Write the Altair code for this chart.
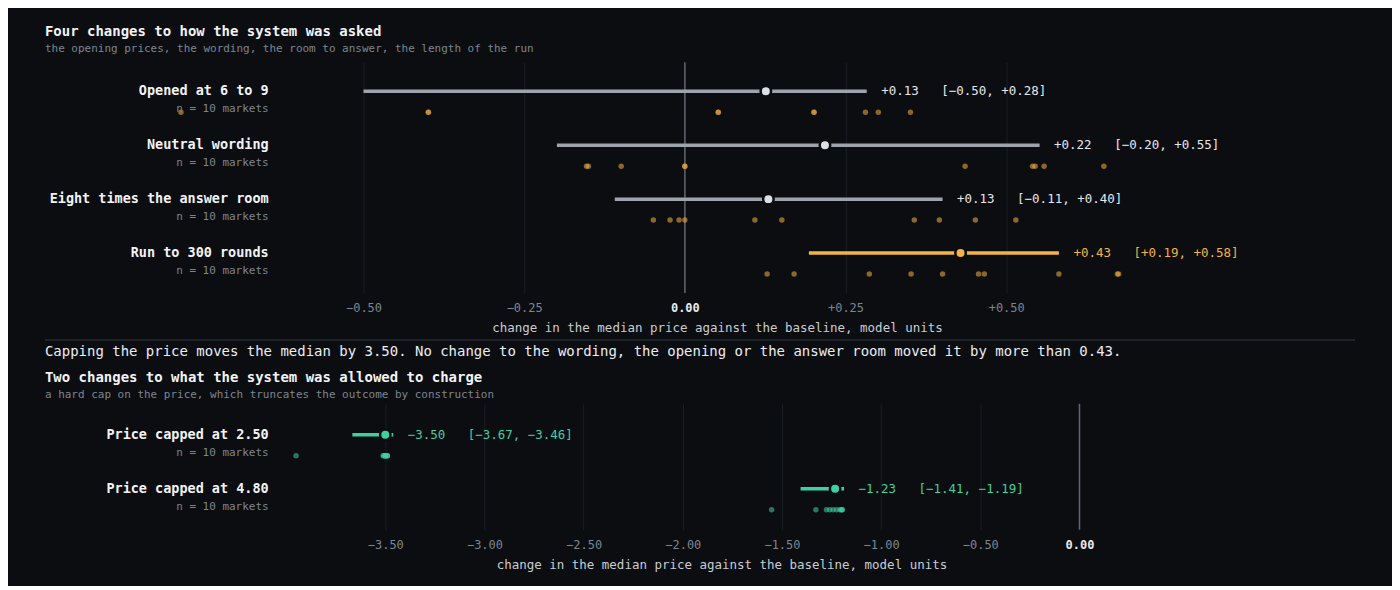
import altair as alt
import pandas as pd

BG = "#0b0d11"
FONT = "DejaVu Sans Mono"
AMBER = "#f5b342"
TEAL = "#3fd0a0"
GRAY_LINE = "#9ea3ad"
GRAY_POINT = "#dde0e6"
TEXT_NS = "#e6e8eb"
MUTED = "#7d8590"
NB = "\u00a0"

# ---------- data: panel 1 ----------
p1_labels = ["Opened at 6 to 9", "Neutral wording", "Eight times the answer room", "Run to 300 rounds"]
p1_n = [10, 10, 10, 10]
p1_median = [0.126, 0.218, 0.130, 0.429]
p1_lo = [-0.500, -0.199, -0.109, 0.193]
p1_hi = [0.283, 0.552, 0.401, 0.582]
p1_opened = [-0.784, -0.399, -0.399, 0.052, 0.052, 0.201, 0.201, 0.281, 0.301, 0.351]
p1_neutral = [-0.153, -0.150, -0.099, 0.000, 0.000, 0.436, 0.541, 0.545, 0.559, 0.652]
p1_eight = [-0.049, -0.023, -0.009, 0.000, 0.109, 0.151, 0.357, 0.396, 0.452, 0.515]
p1_run300 = [0.128, 0.170, 0.287, 0.352, 0.401, 0.457, 0.466, 0.582, 0.673, 0.675]
p1_dots = [p1_opened, p1_neutral, p1_eight, p1_run300]
p1_ticks = [-0.5, -0.25, 0.0, 0.25, 0.5]
p1_domain = [-0.5, 0.6]

# ---------- data: panel 2 ----------
p2_labels = ["Price capped at 2.50", "Price capped at 4.80"]
p2_n = [10, 10]
p2_median = [-3.500, -1.232]
p2_lo = [-3.666, -1.406]
p2_hi = [-3.460, -1.187]
p2_cap250 = [-3.95, -3.51, -3.51, -3.50, -3.50, -3.50, -3.50, -3.49, -3.49, -3.49]
p2_cap480 = [-1.552, -1.329, -1.276, -1.259, -1.242, -1.225, -1.208, -1.200, -1.198, -1.195]
p2_dots = [p2_cap250, p2_cap480]
p2_ticks = [-3.5, -3.0, -2.5, -2.0, -1.5, -1.0, -0.5, 0.0]
p2_domain = [-3.61, 0.0]

SENTENCE = ("Capping the price moves the median by 3.50. No change to the wording, "
            "the opening or the answer room moved it by more than 0.43.")
X_TITLE = "change in the median price against the baseline, model units"

LABEL_GAP = 95      # from right edge of row labels to the plot area
LEFT_SHIFT = 319    # from plot area to the page's left text column


def fmt(v):
    return f"{v:+.2f}".replace("-", "\u2212")


def build_rows(labels, n, med, lo, hi):
    return pd.DataFrame({
        "label": labels,
        "ntext": [f"n = {k} markets" for k in n],
        "median": med,
        "lo": lo,
        "hi": hi,
        "tone": ["sig" if (a > 0 or b < 0) else "ns" for a, b in zip(lo, hi)],
        "ann": [f"{fmt(m)}{NB*3}[{fmt(a)}, {fmt(b)}]" for m, a, b in zip(med, lo, hi)],
    })


def build_dots(labels, dots):
    recs = []
    for lab, vals in zip(labels, dots):
        for v in vals:
            recs.append({"label": lab, "value": v})
    return pd.DataFrame(recs)


def panel(labels, n, med, lo, hi, dots, domain, ticks, width, height, pad_outer, align,
          sig_color, title, subtitle, title_offset):
    rows = build_rows(labels, n, med, lo, hi)
    dd = build_dots(labels, dots)
    yscale = alt.Scale(paddingInner=0, paddingOuter=pad_outer, align=align)
    Y = alt.Y("label:N", sort=labels, axis=None, scale=yscale)
    xscale = alt.Scale(domain=domain, nice=False, zero=False)
    axis = alt.Axis(
        values=ticks, title=X_TITLE, grid=True, labelFlush=False,
        labelExpr="datum.value === 0 ? '0.00' : format(datum.value, '+.2f')",
        labelColor={"expr": "datum.value === 0 ? '#e8eaed' : '%s'" % MUTED},
        labelFontWeight={"expr": "datum.value === 0 ? 'bold' : 'normal'"},
    )

    def X(field):
        return alt.X(field, scale=xscale, axis=axis)

    zero = alt.Chart(pd.DataFrame({"x": [0.0]})).mark_rule(
        color="#5f646d", strokeWidth=1.5).encode(x=X("x:Q"))
    pts = alt.Chart(dd).mark_circle(size=30, opacity=0.55, yOffset=21, color=sig_color).encode(
        x=X("value:Q"), y=Y)
    ci = alt.Chart(rows).mark_rule(strokeWidth=3.5).encode(
        x=X("lo:Q"), x2="hi:Q", y=Y,
        color=alt.condition("datum.tone === 'sig'", alt.value(sig_color), alt.value(GRAY_LINE)))
    mp = alt.Chart(rows).mark_circle(size=110, opacity=1, stroke=BG, strokeWidth=2.5).encode(
        x=X("median:Q"), y=Y,
        fill=alt.condition("datum.tone === 'sig'", alt.value(sig_color), alt.value(GRAY_POINT)))
    ann = alt.Chart(rows).mark_text(align="left", baseline="middle", dx=14.5, font=FONT,
                                    fontSize=12.5).encode(
        x=X("hi:Q"), y=Y, text="ann:N",
        color=alt.condition("datum.tone === 'sig'", alt.value(sig_color), alt.value(TEXT_NS)))
    lab = alt.Chart(rows).mark_text(align="right", baseline="middle", font=FONT, fontSize=13.5,
                                    fontWeight="bold", color="#f2f3f5").encode(
        y=Y, text="label:N", x=alt.value(-LABEL_GAP))
    sub = alt.Chart(rows).mark_text(align="right", baseline="middle", dy=18, font=FONT,
                                    fontSize=11, color=MUTED).encode(
        y=Y, text="ntext:N", x=alt.value(-LABEL_GAP))

    return alt.layer(zero, pts, ci, mp, ann, lab, sub).properties(
        width=width, height=height,
        title=alt.TitleParams(text=title, subtitle=subtitle, anchor="start", frame="group",
                              offset=title_offset, dx=-LEFT_SHIFT),
    )


top = panel(p1_labels, p1_n, p1_median, p1_lo, p1_hi, p1_dots, p1_domain, p1_ticks,
            708, 231, 0.139, 0.133, AMBER,
            "Four changes to how the system was asked",
            "the opening prices, the wording, the room to answer, the length of the run", 8)

bottom = panel(p2_labels, p2_n, p2_median, p2_lo, p2_hi, p2_dots, p2_domain, p2_ticks,
               717, 126, 0.1667, 0.222, TEAL,
               "Two changes to what the system was allowed to charge",
               "a hard cap on the price, which truncates the outcome by construction", 3)

mid_df = pd.DataFrame({"t": [SENTENCE]})
sep = alt.Chart(mid_df).mark_rule(color="#1e2229", strokeWidth=2).encode(
    x=alt.value(-LEFT_SHIFT), x2=alt.value(1312 - LEFT_SHIFT), y=alt.value(5))
txt = alt.Chart(mid_df).mark_text(align="left", baseline="middle", font=FONT, fontSize=14,
                                  color="#eceef1").encode(
    x=alt.value(-LEFT_SHIFT), y=alt.value(17), text="t:N")
mid = alt.layer(sep, txt).properties(width=708, height=36)

chart = alt.vconcat(top, mid, bottom, spacing=0).properties(
    padding={"left": 36, "top": 16, "right": 36, "bottom": 14}
).configure(background=BG).configure_view(stroke=None).configure_axis(
    gridColor="#1a1e25", gridWidth=1, domain=False, ticks=False,
    labelFont=FONT, labelFontSize=12, labelPadding=10,
    titleFont=FONT, titleFontSize=12.5, titleFontWeight="normal", titleColor="#c9cdd3",
    titlePadding=8,
).configure_title(
    font=FONT, fontSize=14, fontWeight="bold", color="#f2f3f5",
    subtitleFont=FONT, subtitleFontSize=11, subtitleColor=MUTED, subtitlePadding=4,
    anchor="start",
)

chart.save("out.html", embed_options={"renderer": "svg", "actions": False})
